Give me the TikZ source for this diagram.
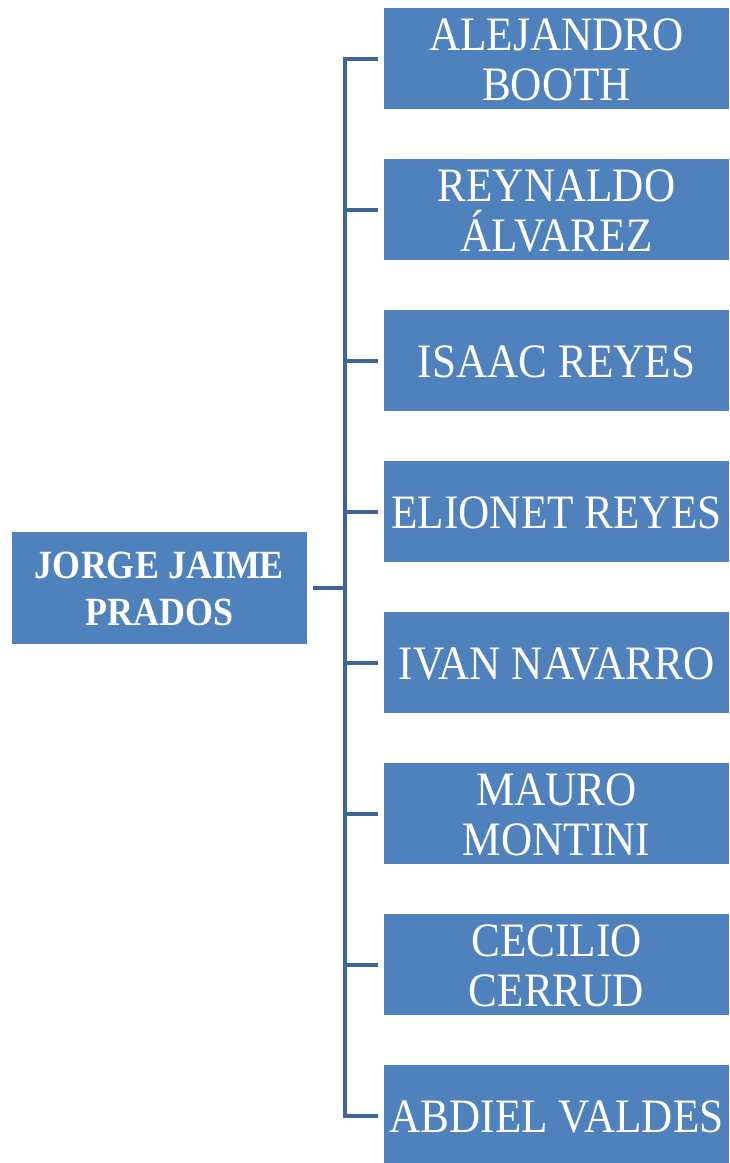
\documentclass[tikz,border=0pt]{standalone}
\usepackage{fontspec}
\setmainfont[FakeStretch=0.9]{Liberation Serif}
\definecolor{boxblue}{RGB}{79,129,189}
\definecolor{linkblue}{RGB}{63,100,150}
\tikzset{
  childbox/.style={fill=boxblue, draw=none, minimum width=345pt, minimum height=101pt, inner sep=0pt, anchor=west},
  rootbox/.style={fill=boxblue, draw=none, minimum width=295pt, minimum height=112pt, inner sep=0pt},
  ctext/.style={anchor=base, text=white, inner sep=0pt, font=\fontsize{48}{50}\selectfont},
  rtext/.style={anchor=base, text=white, inner sep=0pt, font=\fontsize{40}{47}\selectfont\bfseries},
  conn/.style={draw=linkblue, line width=4pt, line join=miter}
}
\begin{document}
\begin{tikzpicture}[x=1pt,y=-1pt]
\useasboundingbox (0,0) rectangle (729,1163);
\node[rootbox] (root) at (159.5,588) {};
\node[rtext] (r1) at (159.5,578) {JORGE JAIME};
\node[rtext] (r2) at (159.5,625) {PRADOS};
\foreach \i in {1,...,8}{
  \node[childbox] (c\i) at (384,{58.5+151*(\i-1)}) {};
}
% two-line labels
\node[ctext] (t1a) at (556.5,50) {ALEJANDRO};
\node[ctext] (t1b) at (556.5,100) {BOOTH};
\node[ctext] (t2a) at (556.5,201) {REYNALDO};
\node[ctext] (t2b) at (556.5,251) {ÁLVAREZ};
\node[ctext] (t3) at (556.5,377.5) {ISAAC REYES};
\node[ctext] (t4) at (556.5,528.5) {ELIONET REYES};
\node[ctext] (t5) at (556.5,679.5) {IVAN NAVARRO};
\node[ctext] (t6a) at (556.5,805) {MAURO};
\node[ctext] (t6b) at (556.5,855) {MONTINI};
\node[ctext] (t7a) at (556.5,956) {CECILIO};
\node[ctext] (t7b) at (556.5,1006) {CERRUD};
\node[ctext] (t8) at (556.5,1132.5) {ABDIEL VALDES};
\coordinate (bus) at (345,0);
\draw[conn] ([xshift=6pt]root.east) -- (root.east -| bus);
\draw[conn] ([xshift=-6pt]c1.west) -- (c1.west -| bus) -- (c8.west -| bus) -- ([xshift=-6pt]c8.west);
\foreach \i in {2,...,7}{
  \draw[conn] (c\i.west -| bus) -- ([xshift=-6pt]c\i.west);
}
\end{tikzpicture}
\end{document}
